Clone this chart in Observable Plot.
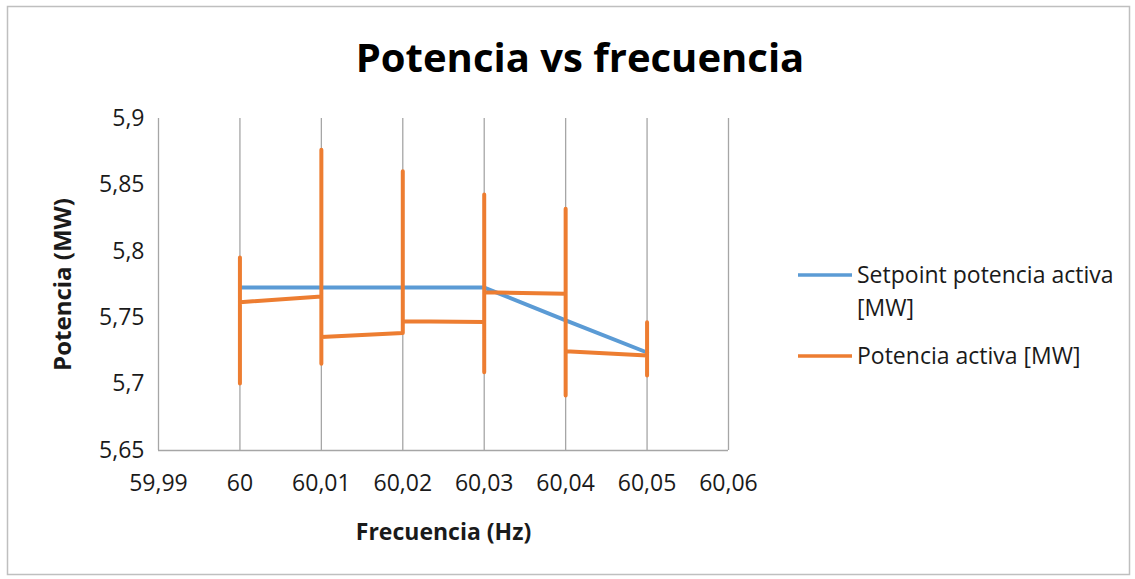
<!DOCTYPE html>
<html>
<head>
<meta charset="utf-8">
<script src="https://cdn.jsdelivr.net/npm/d3@7"></script>
<script src="https://cdn.jsdelivr.net/npm/@observablehq/plot@0.6"></script>
<style>
  html, body { margin: 0; padding: 0; background: #fff; }
  #wrap { position: relative; width: 1135px; height: 579px; overflow: hidden; font-family: "Open Sans", sans-serif; }
  #chart { position: absolute; left: 0; top: 0; }
  #overlay { position: absolute; left: 0; top: 0; pointer-events: none; }
  g[aria-label="x-axis label"] text { font-weight: bold; font-size: 23px; }
  g[aria-label="y-axis label"] text { font-weight: bold; font-size: 24px; }
</style>
</head>
<body>
<div id="wrap">
  <div id="chart"></div>
  <svg id="overlay" width="1135" height="579"></svg>
</div>
<script>
// ---- data ----
const xTicks = [59.99, 60, 60.01, 60.02, 60.03, 60.04, 60.05, 60.06];
const yTicks = [5.65, 5.7, 5.75, 5.8, 5.85, 5.9];

const setpointFreq = [60, 60.01, 60.02, 60.03, 60.04, 60.05];
const setpointPower = [5.7727, 5.7727, 5.7727, 5.7727, 5.748, 5.7238];

const activeFreq = [60, 60, 60, 60.01, 60.01, 60.01, 60.01, 60.02, 60.02, 60.02, 60.03, 60.03, 60.03, 60.03, 60.04, 60.04, 60.04, 60.04, 60.05, 60.05, 60.05];
const activePower = [5.7005, 5.7953, 5.7617, 5.766, 5.8764, 5.7153, 5.7354, 5.7384, 5.8603, 5.7474, 5.7467, 5.8428, 5.709, 5.7692, 5.768, 5.832, 5.6914, 5.7248, 5.7215, 5.7466, 5.7065];

const seriesNames = ["Setpoint potencia activa [MW]", "Potencia activa [MW]"];
const seriesColors = ["#5B9BD5", "#ED7D31"];
const titleText = "Potencia vs frecuencia";
const xLabel = "Frecuencia (Hz)";
const yLabel = "Potencia (MW)";

// ---- build ----
const locale = d3.formatLocale({decimal: ",", thousands: ".", grouping: [3], currency: ["", "€"]});
const fmt = locale.format(".2~f");

const setpoint = setpointFreq.map((f, i) => ({f, p: setpointPower[i]}));
const active = activeFreq.map((f, i) => ({f, p: activePower[i]}));

const plot = Plot.plot({
  width: 1135,
  height: 579,
  marginLeft: 158,
  marginRight: 407,
  marginTop: 118,
  marginBottom: 129,
  style: {fontFamily: "Open Sans, sans-serif", fontSize: "23px", color: "#1a1a1a", background: "transparent"},
  x: {domain: [59.99, 60.06]},
  y: {domain: [5.65, 5.9]},
  marks: [
    Plot.gridX(xTicks, {stroke: "#a6a6a6", strokeOpacity: 1, strokeWidth: 1.3}),
    Plot.ruleY([5.65], {stroke: "#a6a6a6", strokeWidth: 1.3}),
    Plot.line(setpoint, {x: "f", y: "p", stroke: seriesColors[0], strokeWidth: 4, strokeLinejoin: "round"}),
    Plot.line(active, {x: "f", y: "p", stroke: seriesColors[1], strokeWidth: 4, strokeLinecap: "round", strokeLinejoin: "round"}),
    Plot.axisX(xTicks, {tickSize: 0, tickPadding: 24, tickFormat: fmt, fontSize: 23, label: xLabel, labelAnchor: "center", labelOffset: 89, labelArrow: "none"}),
    Plot.axisY(yTicks, {tickSize: 0, tickPadding: 14, tickFormat: fmt, fontSize: 23, label: yLabel, labelAnchor: "center", labelOffset: 105, labelArrow: "none"})
  ]
});
document.getElementById("chart").appendChild(plot);

// ---- overlay: border, title, legend ----
const ov = d3.select("#overlay");
ov.append("rect").attr("x", 7.5).attr("y", 6.5).attr("width", 1122).attr("height", 568)
  .attr("fill", "none").attr("stroke", "#bfbfbf").attr("stroke-width", 1.5);
ov.append("text").attr("x", 580).attr("y", 72).attr("text-anchor", "middle")
  .attr("font-family", "Open Sans, sans-serif").attr("font-weight", "bold").attr("font-size", 40)
  .attr("fill", "#000").text(titleText);

const legendRows = [
  {color: seriesColors[0], lines: ["Setpoint potencia activa", "[MW]"], y: 275},
  {color: seriesColors[1], lines: ["Potencia activa [MW]"], y: 356}
];
legendRows.forEach(r => {
  ov.append("line").attr("x1", 798).attr("x2", 852).attr("y1", r.y).attr("y2", r.y)
    .attr("stroke", r.color).attr("stroke-width", 3.5);
  r.lines.forEach((t, j) => {
    ov.append("text").attr("x", 857).attr("y", r.y + 8 + j * 33)
      .attr("font-family", "Open Sans, sans-serif").attr("font-size", 23).attr("fill", "#1a1a1a").text(t);
  });
});
</script>
</body>
</html>
